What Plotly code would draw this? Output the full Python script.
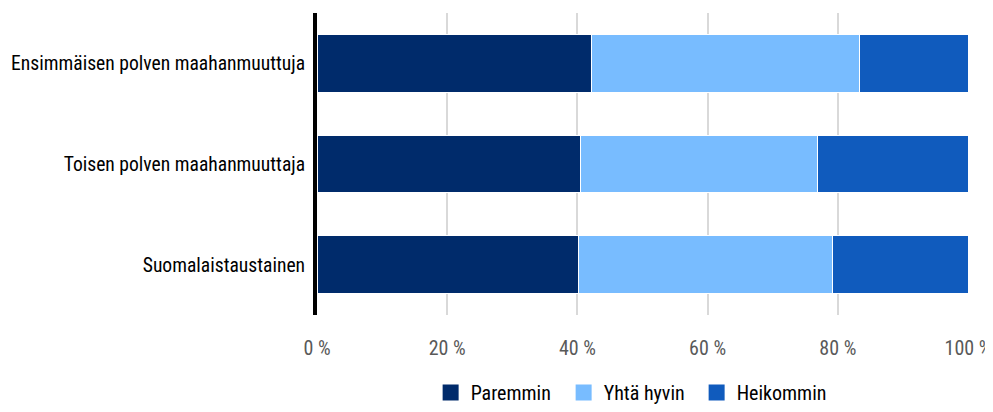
import plotly.graph_objects as go

categories = ["Ensimmäisen polven maahanmuuttuja", "Toisen polven maahanmuuttaja", "Suomalaistaustainen"]
paremmin = [42.2, 40.5, 40.2]
yhta_hyvin = [41.1, 36.4, 39.0]
heikommin = [16.7, 23.1, 20.8]
series_names = ["Paremmin", "Yhtä hyvin", "Heikommin"]
tick_vals = [0, 20, 40, 60, 80, 100]

colors = ["#002b6b", "#78bcff", "#105bbd"]
font_family = "Roboto Condensed, Liberation Sans Narrow, sans-serif"

fig = go.Figure()
for name, vals, col in zip(series_names, [paremmin, yhta_hyvin, heikommin], colors):
    fig.add_trace(go.Bar(
        y=categories, x=vals, name=name, orientation="h",
        marker=dict(color=col, line=dict(color="white", width=1)),
        width=0.57, hoverinfo="x+y+name", showlegend=False,
    ))
# legend entries with larger square swatches
for name, col in zip(series_names, colors):
    fig.add_trace(go.Scatter(
        x=[None], y=[None], mode="markers", name=name,
        marker=dict(symbol="square", size=23, color=col),
        showlegend=True,
    ))

# page body adds an 8px offset; the figure is sized so it ends at the window edge
fig.update_layout(
    barmode="stack",
    width=985, height=404,
    margin=dict(l=309, r=25, t=5, b=97),
    plot_bgcolor="white", paper_bgcolor="white",
    font=dict(family=font_family, size=20, color="#000000"),
    showlegend=True,
    legend=dict(orientation="h", x=0.481, xanchor="center",
                yref="container", y=-0.015, yanchor="bottom",
                font=dict(size=20, color="#000000"), itemsizing="trace",
                traceorder="normal", itemwidth=30, entrywidth=88),
    xaxis=dict(range=[0, 100], tickvals=tick_vals, ticktext=[f"{v} %" for v in tick_vals],
               showgrid=True, gridcolor="#d9d9d9", gridwidth=2, zeroline=False,
               showline=False, tickfont=dict(size=20, color="#595959"),
               ticks="outside", ticklen=15, tickcolor="rgba(0,0,0,0)",
               ticklabeloverflow="allow", automargin=False),
    yaxis=dict(autorange="reversed", showline=True, linecolor="#000000", linewidth=4,
               ticks="outside", ticklen=4, tickcolor="rgba(0,0,0,0)",
               tickfont=dict(size=19.6, color="#000000"),
               showgrid=False, automargin=False),
)

fig.write_html("out.html")
